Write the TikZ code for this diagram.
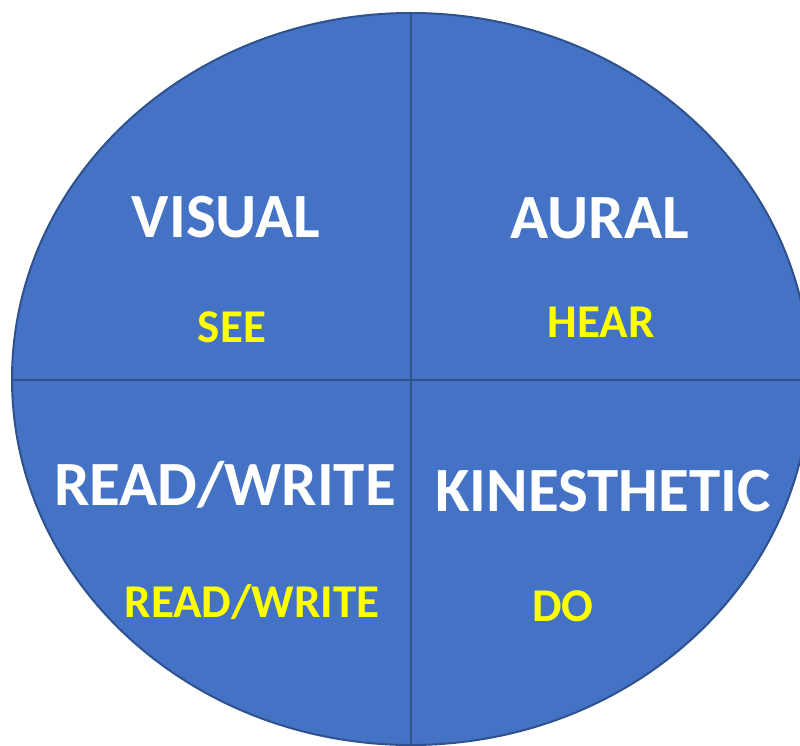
\documentclass[tikz,border=0pt]{standalone}
\usepackage{fontspec}
\setmainfont{Carlito}
\usepackage{tikz}
\usetikzlibrary{positioning}
\usepackage{xcolor}
\definecolor{pieblue}{HTML}{4472C4}
\definecolor{pieedge}{HTML}{2F528F}
\definecolor{fgwhite}{HTML}{FFFFFF}
\definecolor{fgyellow}{HTML}{FFFF00}

\begin{document}
\begin{tikzpicture}[
      x=1pt, y=-1pt,
      bigword/.style={anchor=base, inner sep=0pt, text=fgwhite,
        font=\fontsize{63}{63}\selectfont\bfseries},
      smallword/.style={anchor=base, inner sep=0pt, text=fgyellow,
        font=\fontsize{47}{47}\selectfont\bfseries}
    ]
      \useasboundingbox (0,0) rectangle (800,746);
      \clip (0,0) rectangle (800,746);

      % Disc split in four
      \coordinate (c) at (411,379);
      \draw[pieedge, line width=2pt, fill=pieblue] (c) ellipse [x radius=399, y radius=366];
      \draw[pieedge, line width=2pt] (411,12) -- (411,746);
      \draw[pieedge, line width=2pt] (12,380) -- (810,380);

      % Style names
      \foreach \nm/\x/\y/\txt in {
        visual/226/237/{VISUAL},
        aural/600/238/{AURAL},
        readwrite/225/505/{READ/WRITE},
        kinesthetic/603/511/{KINESTHETIC}%
      }{
        \node[bigword] (\nm) at (\x,\y) {\txt};
      }

      % What each one means
      \foreach \nm/\x/\y/\txt in {
        see/232/342/{SEE},
        hear/601/337/{HEAR},
        rw/252/617/{READ/WRITE},
        do/563/621/{DO}%
      }{
        \node[smallword] (\nm) at (\x,\y) {\txt};
      }
    \end{tikzpicture}
\end{document}
